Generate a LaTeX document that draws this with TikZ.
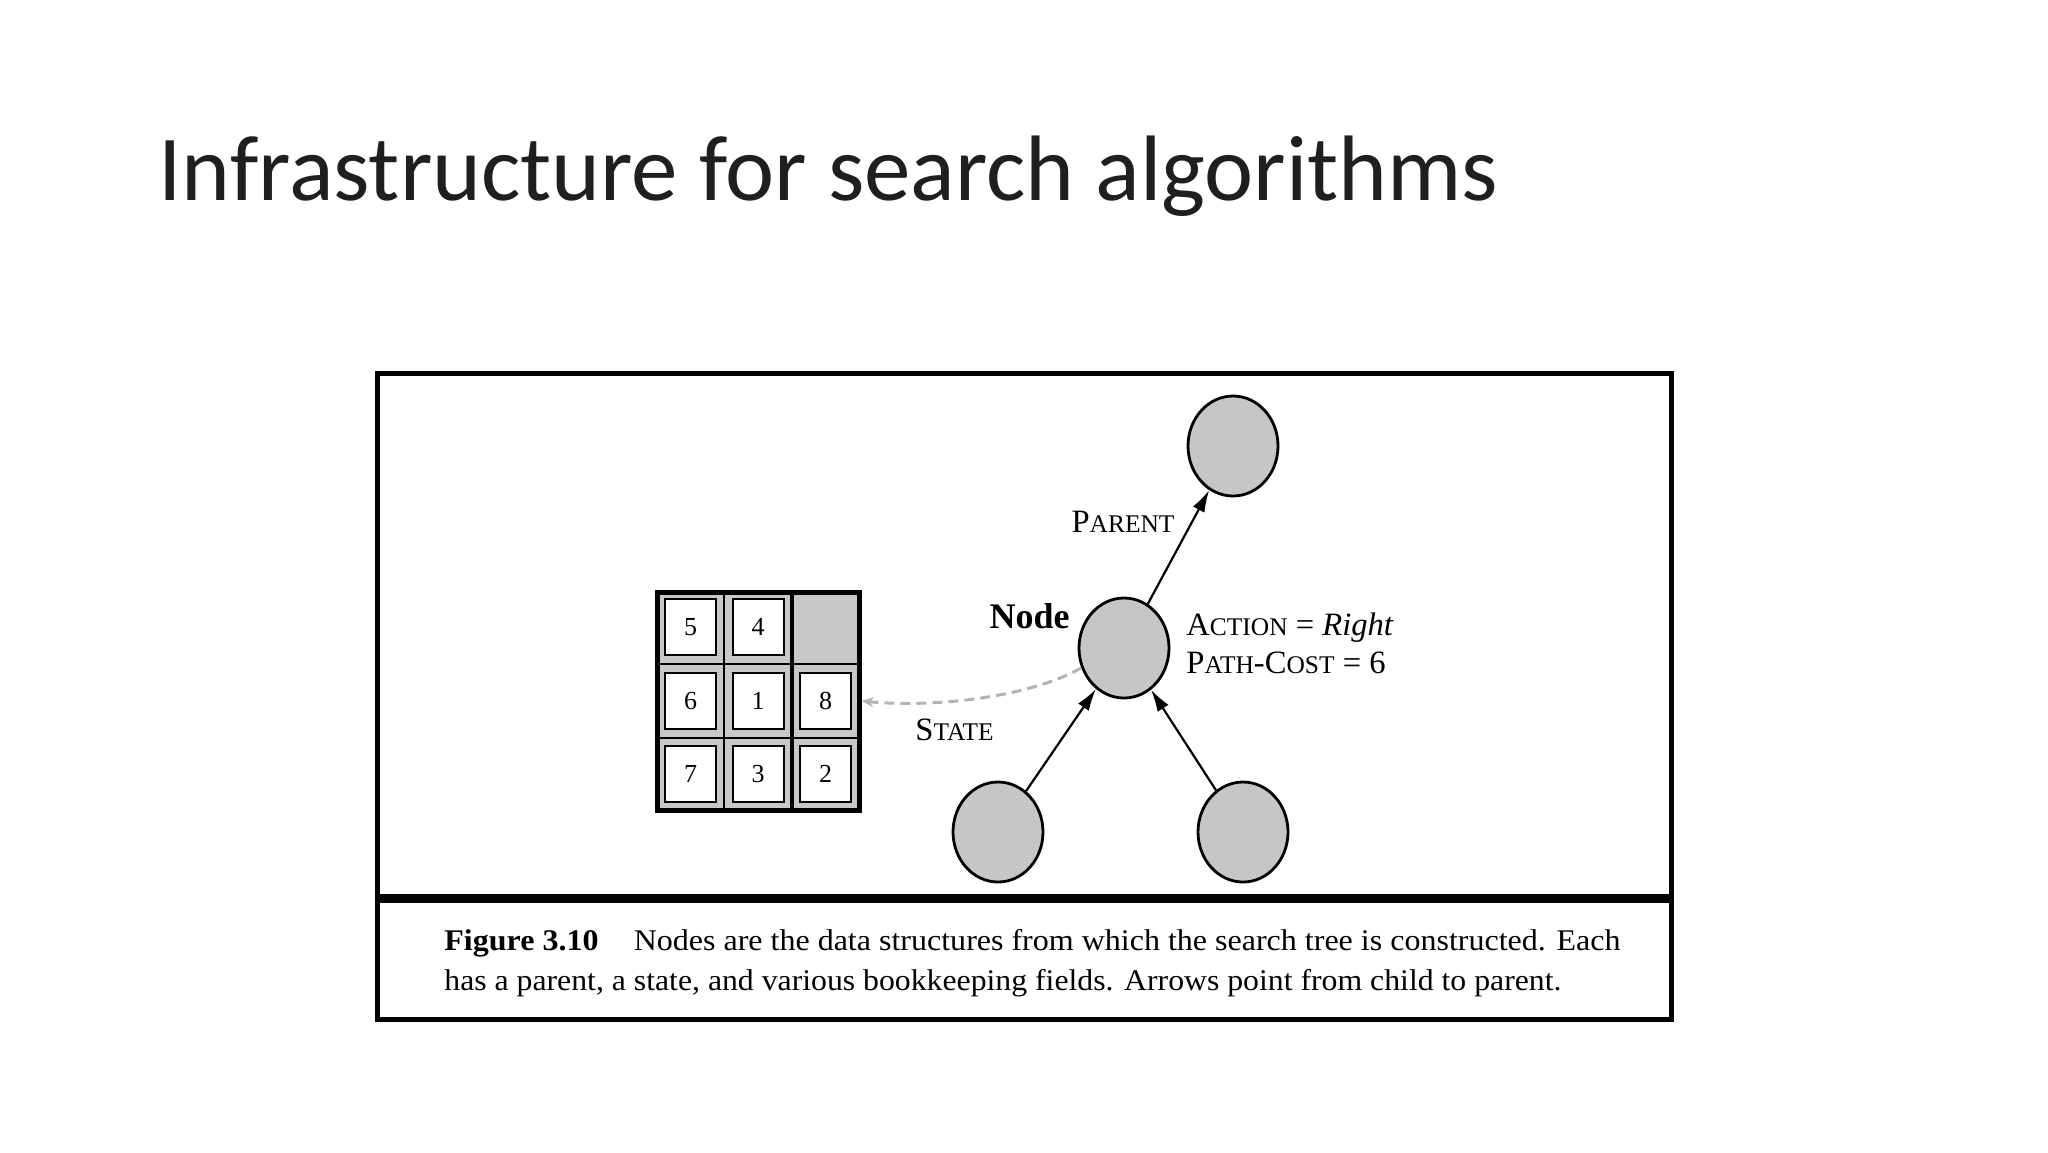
\documentclass[tikz,border=0pt]{standalone}
\usepackage{fontspec}
\setmainfont{Liberation Serif}
\newfontfamily\titlefont{Carlito}
\usepackage{graphicx}
\usetikzlibrary{arrows.meta,shapes.geometric}
\newcommand{\mysc}[2]{#1\scalebox{0.78}{#2}}
\definecolor{nodegray}{HTML}{C6C6C6}
\definecolor{cellgray}{HTML}{C8C8C8}
\definecolor{dashgray}{HTML}{B4B4B4}
\begin{document}
\begin{tikzpicture}[x=0.5pt,y=-0.5pt,
  treenode/.style={ellipse, draw, line width=1.4pt, fill=nodegray, minimum width=45pt, minimum height=50pt, inner sep=0pt},
  tile/.style={draw, line width=1pt, fill=white, minimum width=25.5pt, minimum height=28pt, inner sep=0pt, font=\fontsize{13}{13}\selectfont},
  lbl/.style={inner sep=0pt, font=\fontsize{16.3}{18}\selectfont},
  link/.style={line width=1.1pt, -{Latex[length=11pt,width=6.5pt]}},
  caption/.style={anchor=base west, inner sep=0pt, font=\fontsize{15}{18}\selectfont},
  gridline/.style={line width=1.2pt}
]
\useasboundingbox[fill=white] (0,0) rectangle (2048,1152);

% title
\node[anchor=base west, inner sep=0pt, font=\titlefont\fontsize{46.5}{56}\selectfont, text=black!88] (title) at (158,200) {Infrastructure for search algorithms};

% figure frame
\draw[line width=2.5pt] (377,373) rectangle (1671,1019);
\draw[line width=4.5pt] (377,898) -- (1671,898);

% 8-puzzle grid
\node[draw, line width=2.5pt, fill=cellgray, minimum width=101pt, minimum height=109pt, inner sep=0pt] (grid) at (758,701) {};
\draw[gridline] (724,592) -- (724,810);
\draw[gridline, line width=1.8pt] (792,592) -- (792,810);
\draw[gridline] (657,664) -- (859,664);
\draw[gridline] (657,738) -- (859,738);
\node[tile] (t5) at (690.5,627) {5};
\node[tile] (t4) at (758,627) {4};
\node[tile] (t6) at (690.5,701) {6};
\node[tile] (t1) at (758,701) {1};
\node[tile] (t8) at (825.5,701) {8};
\node[tile] (t7) at (690.5,774) {7};
\node[tile] (t3) at (758,774) {3};
\node[tile] (t2) at (825.5,774) {2};

% tree nodes
\node[treenode] (par) at (1233,446) {};
\node[treenode] (nd) at (1124,648) {};
\node[treenode] (cl) at (998,832) {};
\node[treenode] (cr) at (1243,832) {};

% connectors
\draw[link] (nd) -- (par);
\draw[link] (cl) -- (nd);
\draw[link] (cr) -- (nd);
\draw[dashgray, line width=1.5pt, dash pattern=on 5pt off 3pt, -{Stealth[length=6pt,width=5pt]}]
  (nd.205) .. controls (1030,697) and (935,708) .. (grid.east);

% labels
\node[lbl, anchor=base] (lparent) at (1123,532) {\mysc{P}{ARENT}};
\node[inner sep=0pt, anchor=base east, font=\fontsize{18}{20}\selectfont\bfseries] (lnode) at (1070,628) {Node};
\node[lbl, anchor=base west] (laction) at (1186,635) {\mysc{A}{CTION} = \textit{Right}};
\node[lbl, anchor=base west] (lcost) at (1186,673) {\mysc{P}{ATH}-\mysc{C}{OST} = 6};
\node[lbl, anchor=base west] (lstate) at (915,740) {\mysc{S}{TATE}};

% caption
\node[caption] (cap1) at (444,950) {\resizebox{588pt}{\height}{\textbf{Figure 3.10}\hspace{1.1em}Nodes are the data structures from which the search tree is constructed. Each}};
\node[caption] (cap2) at (444,990) {\resizebox{558.5pt}{\height}{has a parent, a state, and various bookkeeping fields. Arrows point from child to parent.}};
\end{tikzpicture}
\end{document}
